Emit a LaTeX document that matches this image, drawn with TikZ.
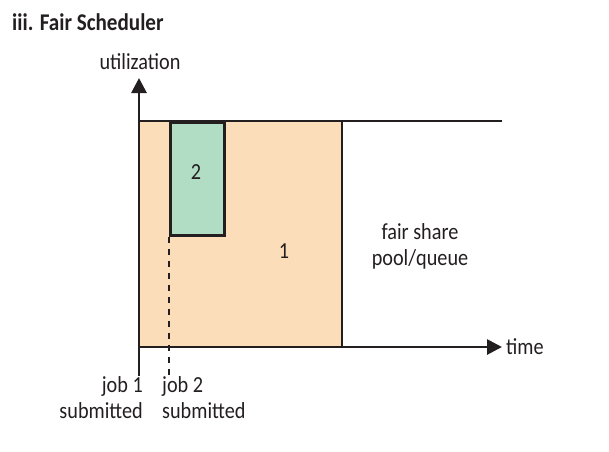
\documentclass[tikz,border=0pt]{standalone}
\usepackage{fontspec}
\setmainfont{Carlito}[FakeStretch=0.88]
\usetikzlibrary{arrows.meta}
\definecolor{peach}{HTML}{FCDDB9}
\definecolor{mint}{HTML}{B0DDC4}
\definecolor{ink}{HTML}{231F20}
\begin{document}
\begin{tikzpicture}[x=1pt,y=-1pt,
  ax/.style={line width=2.8pt,draw=ink},
  lbl/.style={font=\fontsize{23}{26}\selectfont,text=ink,inner sep=0pt}]
\useasboundingbox (0,0) rectangle (609,451);
% boxes
\fill[peach] (139,121) rectangle (342,347);
\node[draw=ink,line width=2.5pt,fill=mint,minimum width=54pt,minimum height=113pt,anchor=north west,inner sep=0pt] (j2) at (169,121) {};
\draw[ink,line width=2.5pt] (342,121) -- (342,347);
% capacity line
\draw[ax] (139,121) -- (502,121);
% axes
\coordinate (o) at (139,347);
\coordinate (ytop) at (139,78);
\coordinate (xend) at (502,347);
\coordinate (ybot) at (139,376);
\draw[ax,-{Triangle[length=15pt,width=15pt]}] (ybot) -- (ytop);
\draw[ax,-{Triangle[length=15pt,width=15pt]}] (o) -- (xend);
% dashed job2 line
\coordinate (d2) at (169,377);
\draw[ink,line width=2.8pt,dash pattern=on 6pt off 6pt] (j2.south west) -- (d2);
% labels
\node[lbl] (two) at (196,172) {2};
\node[lbl] (one) at (284,251) {1};
\node[lbl,align=center] (fs) at (420,246) {fair share\\pool/queue};
\node[lbl,anchor=west] (time) at (506,347) {time};
\node[lbl] (util) at (140,62) {utilization};
\node[lbl,align=right,anchor=north east] (j1) at (143,376) {job 1\\submitted};
\node[lbl,align=left,anchor=north west] (j2l) at (162,376) {job 2\\submitted};
\node[font=\fontsize{24}{28}\selectfont\bfseries,text=ink,anchor=west,inner sep=0pt] (title) at (12,22) {iii. Fair Scheduler};
\end{tikzpicture}
\end{document}
